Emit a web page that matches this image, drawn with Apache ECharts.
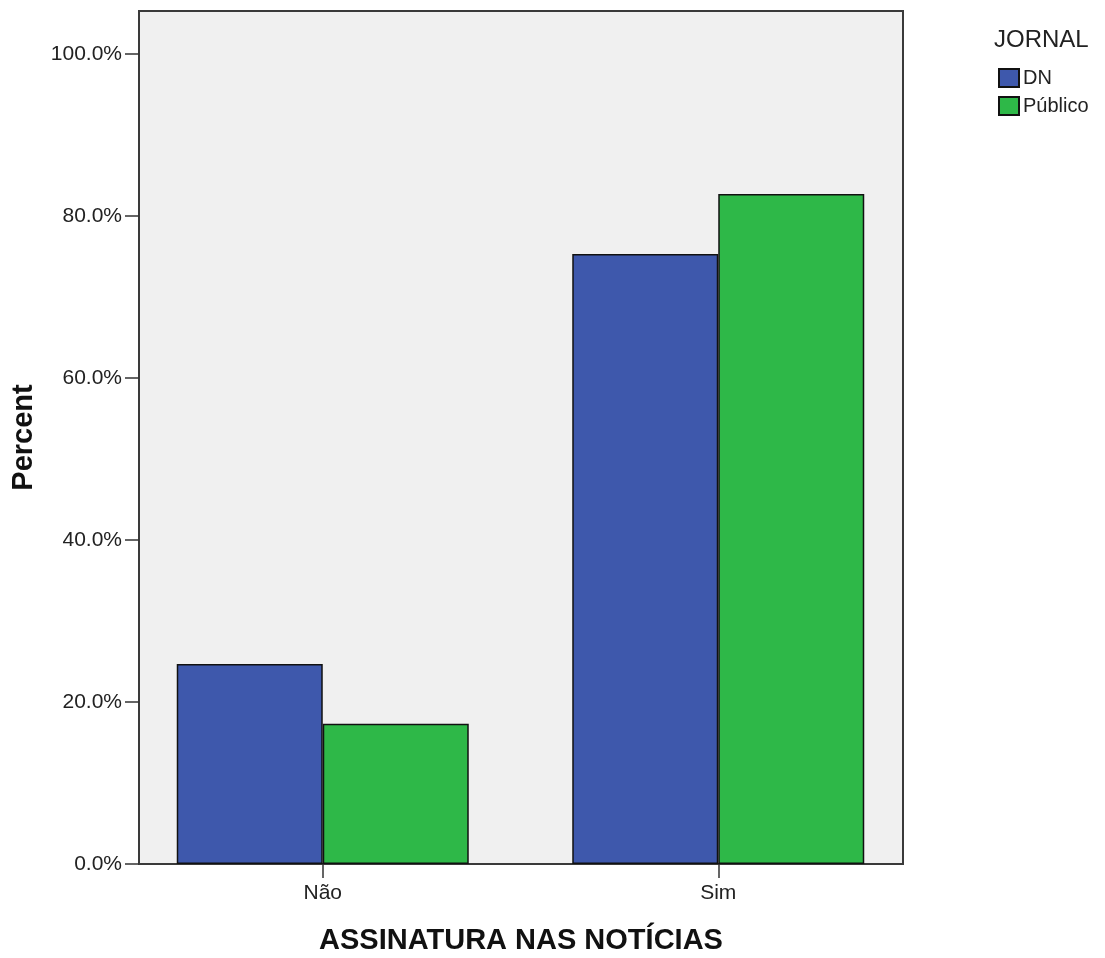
<!DOCTYPE html>
<html>
<head>
<meta charset="utf-8">
<script src="https://cdn.jsdelivr.net/npm/echarts@6/dist/echarts.min.js"></script>
<style>
html,body{margin:0;padding:0;background:#fff;}
#chart{width:1105px;height:958px;}
</style>
</head>
<body>
<div id="chart"></div>
<script>
const categories = ['Não', 'Sim'];
const seriesNames = ['DN', 'Público'];
const dnValues = [24.7, 75.3];
const publicoValues = [17.3, 82.7];
const yTickValues = [0, 20, 40, 60, 80, 100];
const legendTitle = 'JORNAL';
const xTitle = 'ASSINATURA NAS NOTÍCIAS';
const yTitle = 'Percent';

const FONT = '"Liberation Sans", Arial, sans-serif';
const yMax = 105.3;
const chart = echarts.init(document.getElementById('chart'), null, {renderer: 'canvas'});

const barBorder = {borderColor: '#111', borderWidth: 1.5};

chart.setOption({
  animation: false,
  textStyle: {fontFamily: FONT},
  title: {
    text: legendTitle,
    left: 994, top: 28,
    padding: 0,
    textStyle: {fontFamily: FONT, fontSize: 24, fontWeight: 'normal', color: '#222'}
  },
  legend: {
    data: seriesNames,
    orient: 'vertical',
    left: 998, top: 68,
    padding: 0,
    itemWidth: 20, itemHeight: 18, itemGap: 8,
    icon: 'rect',
    textStyle: {fontFamily: FONT, fontSize: 20, color: '#222', padding: [0, 0, 0, -1]}
  },
  grid: [
    {left: 139, right: 202, top: 11, bottom: 94, show: true, containLabel: false, outerBoundsMode: 'none',
     backgroundColor: '#f0f0f0', borderColor: '#3a3a3a', borderWidth: 2},
    {left: 125, right: 189, top: 11, bottom: 94, containLabel: false, outerBoundsMode: 'none'}
  ],
  xAxis: [
    {type: 'value', gridIndex: 0, min: 0, max: 1,
     axisLine: {show: false}, axisTick: {show: false}, axisLabel: {show: false}, splitLine: {show: false},
     name: xTitle, nameLocation: 'middle', nameGap: 62,
     nameTextStyle: {fontFamily: FONT, fontSize: 29, fontWeight: 'bold', color: '#111'}},
    {type: 'category', gridIndex: 1, data: categories, boundaryGap: true,
     axisLine: {show: false},
     axisTick: {show: true, alignWithLabel: true, length: 14, lineStyle: {color: '#333', width: 1.5}},
     axisLabel: {margin: 19, fontFamily: FONT, fontSize: 21, color: '#222'},
     splitLine: {show: false}}
  ],
  yAxis: [
    {type: 'value', gridIndex: 0, min: 0, max: yMax,
     axisLine: {show: false},
     axisTick: {show: true, length: 14, customValues: yTickValues, lineStyle: {color: '#333', width: 1.5}},
     axisLabel: {customValues: yTickValues, margin: 17, fontFamily: FONT, fontSize: 21, color: '#222',
                 formatter: v => v.toFixed(1) + '%'},
     splitLine: {show: false},
     name: yTitle, nameLocation: 'middle', nameRotate: 90, nameGap: 101,
     nameTextStyle: {fontFamily: FONT, fontSize: 29, fontWeight: 'bold', color: '#111'}},
    {type: 'value', gridIndex: 1, min: 0, max: yMax, show: false, splitLine: {show: false}}
  ],
  series: [
    {name: seriesNames[0], type: 'bar', xAxisIndex: 1, yAxisIndex: 1, data: dnValues,
     barWidth: 146, barGap: '0%', itemStyle: Object.assign({color: '#3e58ac'}, barBorder)},
    {name: seriesNames[1], type: 'bar', xAxisIndex: 1, yAxisIndex: 1, data: publicoValues,
     barWidth: 146, barGap: '0%', itemStyle: Object.assign({color: '#2eb848'}, barBorder)}
  ]
});
</script>
</body>
</html>
